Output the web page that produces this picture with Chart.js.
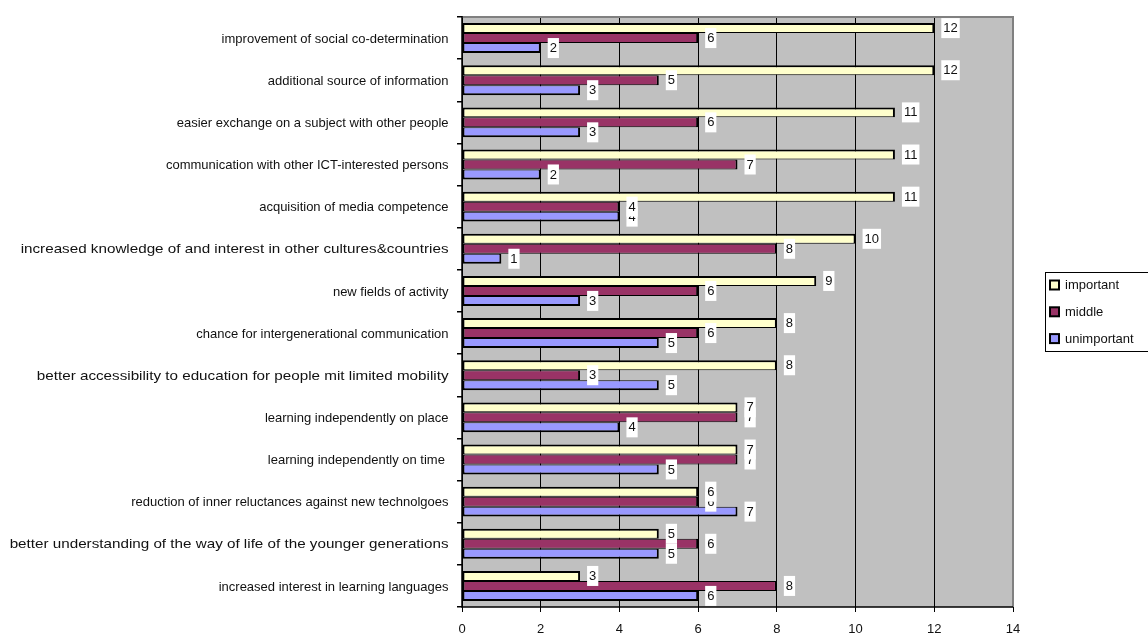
<!DOCTYPE html>
<html>
<head>
<meta charset="utf-8">
<script src="https://cdn.jsdelivr.net/npm/chart.js@4/dist/chart.umd.min.js"></script>
<style>
  html, body { margin: 0; padding: 0; background: #fff; }
  #wrap { width: 1148px; height: 635px; position: relative; }
</style>
</head>
<body>
<div id="wrap"><canvas id="c" width="1148" height="635"></canvas></div>
<script>
// Benefits, rated by respondents (number of answers)
const categories = [
  "improvement of social co-determination",
  "additional source of information",
  "easier exchange on a subject with other people",
  "communication with other ICT-interested persons",
  "acquisition of media competence",
  "increased knowledge of and interest in other cultures&countries",
  "new fields of activity",
  "chance for intergenerational communication",
  "better accessibility to education for people mit limited mobility",
  "learning independently on place",
  "learning independently on time ",
  "reduction of inner reluctances against new technolgoes",
  "better understanding of the way of life of the younger generations",
  "increased interest in learning languages"
];
const important   = [12, 12, 11, 11, 11, 10, 9, 8, 8, 7, 7, 6, 5, 3];
const middle      = [ 6,  5,  6,  7,  4,  8, 6, 6, 3, 7, 7, 6, 6, 8];
const unimportant = [ 2,  3,  3,  2,  4,  1, 3, 5, 5, 4, 5, 7, 5, 6];
const seriesNames = ["important", "middle", "unimportant"];
const xTicks = [0, 2, 4, 6, 8, 10, 12, 14];

const FONT = "'Liberation Sans', Arial, sans-serif";
const TEXT = "#111";

// the longest category names are drawn slightly widened
const labelStretch = { 5: 1.17, 8: 1.17, 12: 1.17 };

// gray plot background and outer frame
const plotFrame = {
  id: 'plotFrame',
  beforeDraw(chart) {
    const { ctx, chartArea: a } = chart;
    ctx.save();
    ctx.fillStyle = '#fff';
    ctx.fillRect(0, 0, chart.width, chart.height);
    ctx.fillStyle = '#c0c0c0';
    ctx.fillRect(a.left, a.top, a.right - a.left, a.bottom - a.top);
    ctx.restore();
  },
  afterDatasetsDraw(chart) {
    const { ctx, chartArea: a } = chart;
    ctx.save();
    ctx.strokeStyle = '#808080';
    ctx.lineWidth = 2;
    ctx.beginPath();
    ctx.moveTo(a.left, a.top);
    ctx.lineTo(a.right, a.top);
    ctx.lineTo(a.right, a.bottom);
    ctx.stroke();
    ctx.strokeStyle = '#000';
    ctx.lineWidth = 1.5;
    ctx.beginPath();
    ctx.moveTo(a.left, a.top - 1);
    ctx.lineTo(a.left, a.bottom);
    ctx.lineTo(a.right, a.bottom);
    ctx.stroke();
    ctx.restore();
  }
};

// category names, right-aligned against the axis tick marks
const categoryNames = {
  id: 'categoryNames',
  afterDraw(chart) {
    const { ctx } = chart;
    const y = chart.scales.y;
    ctx.save();
    ctx.font = '13px ' + FONT;
    ctx.fillStyle = TEXT;
    ctx.textAlign = 'right';
    ctx.textBaseline = 'middle';
    chart.data.labels.forEach((name, i) => {
      const py = y.getPixelForTick(i);
      ctx.save();
      ctx.translate(448.5, py + 1);
      ctx.scale(labelStretch[i] || 1, 1);
      ctx.fillText(name, 0, 0);
      ctx.restore();
    });
    ctx.restore();
  }
};

// value boxes at the end of each bar; later series are painted over earlier ones
const valueBoxes = {
  id: 'valueBoxes',
  afterDatasetsDraw(chart) {
    const { ctx } = chart;
    ctx.save();
    ctx.font = '13px ' + FONT;
    ctx.textBaseline = 'middle';
    ctx.textAlign = 'left';
    for (let d = chart.data.datasets.length - 1; d >= 0; d--) {
      const meta = chart.getDatasetMeta(d);
      const data = chart.data.datasets[d].data;
      meta.data.forEach((bar, i) => {
        const txt = String(data[i]);
        const w = ctx.measureText(txt).width;
        const x0 = bar.x + 7;
        const yc = bar.y;
        ctx.fillStyle = '#fff';
        ctx.fillRect(x0, yc - 10, w + 4, 20);
        ctx.fillStyle = TEXT;
        ctx.fillText(txt, x0 + 2, yc + 0.5);
      });
    }
    ctx.restore();
  }
};

// boxed legend to the right of the plot
const boxLegend = {
  id: 'boxLegend',
  afterDraw(chart) {
    const { ctx } = chart;
    const left = 1045, top = 272.5, w = 110, h = 79;
    ctx.save();
    ctx.fillStyle = '#fff';
    ctx.fillRect(left, top, w, h);
    ctx.strokeStyle = '#000';
    ctx.lineWidth = 1;
    ctx.strokeRect(left + 0.5, top, w, h);
    ctx.font = '13px ' + FONT;
    ctx.textBaseline = 'middle';
    chart.data.datasets.forEach((ds, i) => {
      const yc = 285 + i * 26.8;
      ctx.fillStyle = ds.backgroundColor;
      ctx.fillRect(1050, yc - 4.5, 9, 9);
      ctx.strokeStyle = '#000';
      ctx.lineWidth = 2;
      ctx.strokeRect(1050, yc - 4.5, 9, 9);
      ctx.fillStyle = TEXT;
      ctx.fillText(ds.label, 1065, yc + 0.5);
    });
    ctx.restore();
  }
};

function barStyle(top, bottom) {
  return {
    borderColor: '#000',
    borderWidth: { top: top, bottom: bottom, left: 2, right: 2 },
    borderSkipped: false,
    categoryPercentage: 0.71,
    barPercentage: 1.0
  };
}

new Chart(document.getElementById('c'), {
  type: 'bar',
  data: {
    labels: categories,
    datasets: [
      Object.assign({ label: seriesNames[0], data: important,   backgroundColor: '#ffffcc' }, barStyle(2, 1)),
      Object.assign({ label: seriesNames[1], data: middle,      backgroundColor: '#993366' }, barStyle(1, 1)),
      Object.assign({ label: seriesNames[2], data: unimportant, backgroundColor: '#9999ff' }, barStyle(1, 2))
    ]
  },
  options: {
    indexAxis: 'y',
    responsive: false,
    animation: false,
    layout: { padding: { top: 17, right: 135, left: 0, bottom: 0 } },
    plugins: { legend: { display: false }, tooltip: { enabled: false } },
    scales: {
      x: {
        min: 0, max: 14,
        afterFit(s) { s.height = 28; },
        afterBuildTicks(s) { s.ticks = xTicks.map(v => ({ value: v })); },
        grid: { color: '#000', lineWidth: 1, tickLength: 5, drawOnChartArea: true },
        border: { display: false },
        ticks: { color: TEXT, font: { family: FONT, size: 13 }, padding: 10, maxRotation: 0 }
      },
      y: {
        afterFit(s) { s.width = 462; },
        grid: { offset: true, drawOnChartArea: false, color: '#000', tickLength: 5, lineWidth: 1.5 },
        border: { display: false },
        ticks: { color: 'rgba(0,0,0,0)', font: { family: FONT, size: 13 }, padding: 8, autoSkip: false }
      }
    }
  },
  plugins: [plotFrame, valueBoxes, categoryNames, boxLegend]
});
</script>
</body>
</html>
